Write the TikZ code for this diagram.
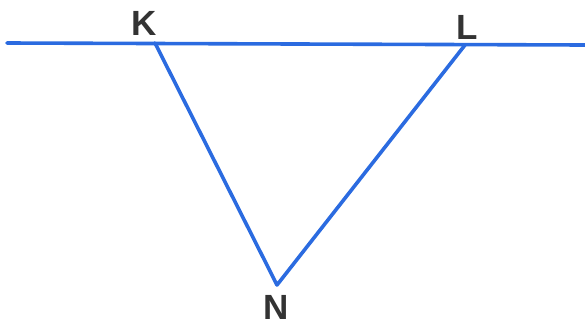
\documentclass[tikz,border=0pt]{standalone}
\usepackage{fontspec}
\setmainfont{Liberation Sans}
\usepackage{tikz}
\usetikzlibrary{calc}
\definecolor{linec}{HTML}{2B6BE0}
\definecolor{labc}{HTML}{333333}
\tikzset{
  seg/.style={linec, line width=3.6pt, line join=round, line cap=round},
  ptlabel/.style={labc, inner sep=0pt, font=\fontsize{35}{38}\selectfont\bfseries}
}

\begin{document}
\begin{tikzpicture}[x=1pt, y=-1pt]
        \useasboundingbox (0,0) rectangle (585,327);
        \coordinate (W) at (7,43);
        \coordinate (E) at (585,45);
        \coordinate (K) at (155,43);
        \coordinate (L) at (465,45);
        \coordinate (N) at (277,285);
        \draw[seg] (W) -- (E);
        \draw[seg] (K) -- (N) -- (L);
        \node[ptlabel] (kl) at (144,23) {K};
        \node[ptlabel] (ll) at (467,27) {L};
        \node[ptlabel] (nl) at (276,307) {N};
      \end{tikzpicture}
\end{document}
